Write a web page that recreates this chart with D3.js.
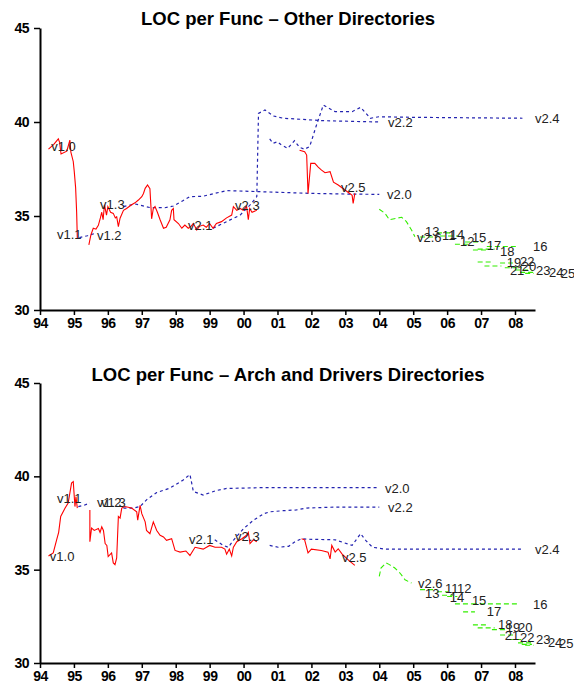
<!DOCTYPE html>
<html>
<head>
<meta charset="utf-8">
<script src="https://cdn.jsdelivr.net/npm/d3@7"></script>
<style>
  body { margin: 0; background: #fff; }
  svg { display: block; font-family: "Liberation Sans", Arial, sans-serif; }
</style>
</head>
<body>
<div id="chart"></div>
<script>
// x = year, y = lines of code per function
const yearTicks = d3.range(1994, 2009);
const valueTicks = [30, 35, 40, 45];

// ---- Other directories ----
const otherDev = [
  [[1994.25,38.56],[1994.4,38.8],[1994.54,39.1],[1994.58,38.9],[1994.62,38.3],[1994.79,38.45],[1994.88,39.04],[1994.91,38.4],[1994.98,37.9],[1995.01,37.36],[1995.05,36.5],[1995.08,35.2],[1995.1,33.83]],
  [[1995.44,33.46],[1995.5,34.0],[1995.57,34.35],[1995.65,34.3],[1995.72,34.5],[1995.78,34.9],[1995.82,35.2],[1995.86,34.8],[1995.9,35.6],[1995.96,35.05],[1996.0,35.5],[1996.08,35.2],[1996.16,35.14],[1996.22,34.9],[1996.26,34.96],[1996.31,34.43],[1996.36,34.88],[1996.46,35.3],[1996.55,35.4],[1996.7,35.6],[1996.8,35.7],[1996.9,35.85],[1997.0,36.03],[1997.05,36.2],[1997.1,36.47],[1997.17,36.65],[1997.24,36.45],[1997.29,34.85],[1997.34,35.4],[1997.39,35.5],[1997.46,35.2],[1997.54,34.8],[1997.64,34.35],[1997.72,34.4],[1997.83,34.8],[1997.88,35.3],[1997.93,35.4],[1997.95,34.8],[1998.08,34.6],[1998.18,34.35],[1998.27,34.52],[1998.37,34.35],[1998.45,34.45],[1998.52,34.6],[1998.62,34.26],[1998.7,34.45],[1998.81,34.52],[1998.9,34.4],[1999.0,34.6],[1999.1,34.35],[1999.2,34.6],[1999.35,34.7],[1999.5,34.9],[1999.65,35.05],[1999.7,35.5],[1999.8,35.3],[1999.9,35.4],[1999.99,35.3],[2000.09,35.5],[2000.14,34.8],[2000.18,35.4],[2000.25,35.2],[2000.39,35.3]],
  [[2001.65,38.5],[2001.8,38.42],[2001.86,38.24],[2001.9,36.2],[2001.98,37.8],[2002.1,37.8],[2002.2,37.6],[2002.29,37.45],[2002.4,37.3],[2002.55,37.36],[2002.65,36.8],[2002.79,36.65],[2002.99,36.38],[2003.13,36.2],[2003.2,36.1],[2003.23,35.67],[2003.28,36.2]]
];
const otherStable = [
  [[1995.16,33.85],[1995.4,33.95],[1995.67,34.1]],
  [[1996.46,35.5],[1996.8,35.64],[1997.24,35.45],[1997.68,35.44],[1997.93,35.53],[1998.2,35.8],[1998.42,36.03],[1998.8,36.05],[1999.5,36.35],[2000.39,36.3],[2001.2,36.25],[2002.05,36.2],[2003.0,36.17],[2004.0,36.15]],
  [[1999.1,34.35],[1999.5,34.7],[1999.9,35.05],[2000.2,35.6],[2000.39,36.03],[2000.44,40.46],[2000.63,40.64],[2000.88,40.32],[2001.17,40.2],[2002.35,40.07],[2004.0,40.0]],
  [[2000.77,39.1],[2000.87,38.87],[2001.0,38.95],[2001.1,38.8],[2001.3,38.6],[2001.5,39.0],[2001.65,38.65],[2001.8,38.55],[2001.95,38.7],[2002.15,39.84],[2002.35,40.9],[2002.7,40.55],[2003.2,40.55],[2003.45,40.78],[2003.74,40.2],[2003.99,40.28],[2004.98,40.25],[2008.22,40.2]]
];
const otherV26 = [[2004.0,35.36],[2004.17,35.14],[2004.3,34.8],[2004.5,34.88],[2004.66,34.93],[2004.8,34.7],[2004.95,34.26],[2005.05,33.9]];
// 2.6.x stable branches: [start, end, value]
const otherBranches = [
  [2005.2,2005.7,33.88],[2005.7,2006.14,34.1],[2005.79,2006.32,33.94],[2006.23,2006.67,33.5],
  [2006.53,2007.06,33.62],[2006.76,2007.17,33.19],[2007.17,2008.09,33.38],[2006.9,2007.4,33.24],
  [2006.9,2007.32,32.55],[2007.1,2007.6,32.34],[2007.56,2007.94,32.5],[2007.7,2008.2,32.25],
  [2008.0,2008.5,32.13],[2008.15,2008.55,32.0],[2008.3,2008.55,31.95]
];
const otherLabels = [
  ["v1.0",1994.33,38.7],["v1.1",1994.5,34.04],["v1.2",1995.68,33.94],["v1.3",1995.77,35.64],
  ["v2.1",1998.36,34.52],["v2.3",1999.75,35.58],["v2.5",2002.87,36.54],["v2.0",2004.23,36.12],
  ["v2.2",2004.26,39.95],["v2.4",2008.59,40.21],["v2.6",2005.11,33.88],
  ["13",2005.35,34.2],["11",2005.85,33.94],["14",2006.08,34.0],["12",2006.38,33.67],
  ["15",2006.73,33.88],["17",2007.17,33.46],["18",2007.56,33.09],["16",2008.53,33.4],
  ["19",2007.76,32.55],["22",2008.15,32.6],["21",2007.85,32.13],["20",2008.2,32.3],
  ["23",2008.62,32.13],["24",2009.0,32.0],["25",2009.35,31.92]
];

// ---- Arch and drivers directories ----
const archDev = [
  [[1994.25,35.73],[1994.39,35.9],[1994.49,36.6],[1994.55,37.0],[1994.61,37.85],[1994.74,38.3],[1994.83,38.57],[1994.93,39.64],[1994.98,39.72],[1995.03,38.38],[1995.06,38.9],[1995.1,38.3]],
  [[1995.47,38.2],[1995.47,36.5],[1995.52,37.23],[1995.6,37.1],[1995.72,37.2],[1995.77,37.0],[1995.82,37.3],[1995.87,37.1],[1995.92,36.4],[1995.97,36.3],[1996.01,35.7],[1996.11,35.9],[1996.16,35.36],[1996.21,35.27],[1996.26,35.63],[1996.31,37.85],[1996.36,37.76],[1996.41,38.3],[1996.5,38.38],[1996.7,38.3],[1996.85,38.1],[1996.88,37.65],[1996.95,38.45],[1997.0,38.0],[1997.1,37.56],[1997.14,37.1],[1997.24,36.93],[1997.34,37.56],[1997.44,37.1],[1997.54,36.84],[1997.64,36.75],[1997.73,36.57],[1997.88,36.66],[1997.98,36.03],[1998.13,35.94],[1998.3,36.0],[1998.42,35.76],[1998.57,36.2],[1998.81,36.1],[1999.0,36.3],[1999.16,36.2],[1999.35,36.2],[1999.45,36.1],[1999.5,35.83],[1999.58,36.1],[1999.65,35.74],[1999.7,36.2],[1999.8,36.5],[1999.95,36.66],[2000.09,36.84],[2000.14,37.0],[2000.19,36.4],[2000.29,36.6],[2000.39,36.5]],
  [[2001.71,36.66],[2001.8,36.6],[2001.9,35.9],[2002.0,36.1],[2002.29,36.03],[2002.49,35.94],[2002.55,35.58],[2002.6,36.3],[2002.7,35.94],[2002.79,36.12],[2002.9,35.85],[2003.1,35.5],[2003.28,35.23]]
];
const archStable = [
  [[1995.13,38.38],[1995.3,38.45],[1995.47,38.57]],
  [[1996.46,38.3],[1996.75,38.3],[1996.95,38.38],[1997.14,38.74],[1997.44,39.13],[1997.83,39.37],[1998.22,39.8],[1998.42,40.1],[1998.52,39.19],[1998.81,39.0],[1999.2,39.24],[1999.5,39.35],[2000.68,39.4],[2004.0,39.4]],
  [[1999.15,36.6],[1999.4,36.3],[1999.55,36.2],[1999.7,36.57],[2000.0,37.2],[2000.3,37.66],[2000.6,38.0],[2000.78,38.1],[2001.17,38.16],[2001.56,38.2],[2001.86,38.3],[2002.65,38.35],[2004.0,38.35]],
  [[2000.77,36.3],[2001.02,36.2],[2001.33,36.25],[2001.52,36.5],[2001.71,36.66],[2001.9,36.63],[2002.7,36.6],[2003.2,36.3],[2003.45,36.93],[2003.6,36.57],[2003.8,36.2],[2004.18,36.1],[2008.25,36.1]]
];
const archV26 = [[2004.0,34.64],[2004.05,35.09],[2004.2,35.36],[2004.3,35.27],[2004.45,35.1],[2004.61,34.82],[2004.76,34.46],[2004.95,34.28]];
const archBranches = [
  [2005.2,2005.7,33.93],[2005.7,2006.03,33.82],[2005.85,2006.17,33.63],[2006.0,2006.3,33.56],
  [2006.23,2006.73,33.17],[2006.73,2008.09,33.17],[2006.47,2006.82,32.74],[2006.76,2007.17,32.04],
  [2006.9,2007.4,31.88],[2007.32,2007.76,31.79],[2007.56,2008.0,31.5],[2007.8,2008.24,31.26],
  [2008.09,2008.5,31.08],[2008.2,2008.5,31.0],[2008.3,2008.55,30.95]
];
const archLabels = [
  ["v1.0",1994.29,35.7],["v1.1",1994.5,38.8],["v1.2",1995.68,38.58],["v1.3",1995.8,38.58],
  ["v2.1",1998.39,36.6],["v2.3",1999.75,36.76],["v2.5",2002.9,35.64],["v2.0",2004.17,39.33],
  ["v2.2",2004.26,38.32],["v2.4",2008.59,36.07],["v2.6",2005.14,34.25],
  ["13",2005.35,33.72],["11",2005.94,33.98],["12",2006.29,33.98],["14",2006.08,33.5],
  ["15",2006.73,33.34],["16",2008.53,33.13],["17",2007.17,32.75],["18",2007.5,32.06],
  ["19",2007.73,31.9],["20",2008.09,31.9],["21",2007.7,31.47],["22",2008.15,31.38],
  ["23",2008.62,31.26],["24",2008.97,31.1],["25",2009.3,31.04]
];

const W = 574, H = 694;
const svg = d3.select('#chart').append('svg')
  .attr('width', W)
  .attr('height', H);

const x = d3.scaleLinear().domain([1994, 2008.59]).range([40, 535]);

const panels = [
  { title: 'LOC per Func \u2013 Other Directories', top: 28, bottom: 310, titleY: 25,
    dev: otherDev, stable: otherStable, v26: otherV26, branches: otherBranches, labels: otherLabels },
  { title: 'LOC per Func \u2013 Arch and Drivers Directories', top: 383, bottom: 663, titleY: 381,
    dev: archDev, stable: archStable, v26: archV26, branches: archBranches, labels: archLabels }
];

panels.forEach(p => {
  const y = d3.scaleLinear().domain([30, 45]).range([p.bottom, p.top]);
  const g = svg.append('g');

  const line = d3.line()
    .x(d => x(d[0]))
    .y(d => y(d[1]));

  // stable series: blue dotted
  g.selectAll('.stable')
    .data(p.stable)
    .enter()
    .append('path')
    .attr('fill', 'none')
    .attr('stroke', '#2323b0')
    .attr('stroke-width', 1.2)
    .attr('stroke-dasharray', '3,3')
    .attr('d', line);

  // development series: red solid
  g.selectAll('.dev')
    .data(p.dev)
    .enter()
    .append('path')
    .attr('fill', 'none')
    .attr('stroke', '#ff0000')
    .attr('stroke-width', 1.1)
    .attr('d', line);

  // 2.6 mainline and stable branches: green dashed
  const branchLines = [p.v26].concat(p.branches.map(b => [[b[0], b[2]], [b[1], b[2]]]));
  g.selectAll('.v26')
    .data(branchLines)
    .enter()
    .append('path')
    .attr('fill', 'none')
    .attr('stroke', '#33ee00')
    .attr('stroke-width', 1.1)
    .attr('stroke-dasharray', '5,3')
    .attr('d', line);

  g.selectAll('.lbl')
    .data(p.labels)
    .enter()
    .append('text')
    .attr('x', d => x(d[1]))
    .attr('y', d => y(d[2]))
    .attr('dy', '0.35em')
    .style('font-size', '13px')
    .style('fill', '#222')
    .text(d => d[0]);

  // axes
  const xAxis = g.append('g')
    .attr('transform', `translate(0,${p.bottom})`)
    .call(d3.axisBottom(x)
      .tickValues(yearTicks)
      .tickFormat(d => String(d).slice(2))
      .tickSize(5)
      .tickSizeOuter(0)
      .tickPadding(3));

  const yAxis = g.append('g')
    .attr('transform', 'translate(40,0)')
    .call(d3.axisLeft(y)
      .tickValues(valueTicks)
      .tickSize(6)
      .tickSizeOuter(0)
      .tickPadding(5));

  [xAxis, yAxis].forEach(a => {
    a.select('.domain').attr('stroke', '#000').attr('stroke-width', 2);
    a.selectAll('.tick line').attr('stroke', '#000').attr('stroke-width', 1.5);
    a.selectAll('text')
      .style('font-family', '"Liberation Sans", Arial, sans-serif')
      .style('font-size', '14px')
      .style('font-weight', 'bold')
      .style('letter-spacing', '-0.5px')
      .style('fill', '#000');
  });

  svg.append('text')
    .attr('x', 288)
    .attr('y', p.titleY)
    .attr('text-anchor', 'middle')
    .style('font-size', '18.5px')
    .style('font-weight', 'bold')
    .text(p.title);
});
</script>
</body>
</html>
